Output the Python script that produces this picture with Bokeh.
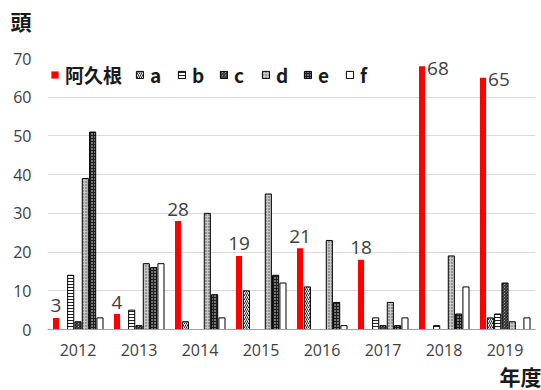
from bokeh.plotting import figure
from bokeh.models import (FactorRange, Range1d, SingleIntervalTicker, Title, Legend,
                          LegendItem, ColumnDataSource, CDSView, BooleanFilter)
from bokeh.transform import dodge
from bokeh.core.properties import value
from bokeh.embed import file_html
from bokeh.resources import INLINE

years = ["2012", "2013", "2014", "2015", "2016", "2017", "2018", "2019"]
akune = [3, 4, 28, 19, 21, 18, 68, 65]
a = [0, 0, 2, 10, 11, 0, 0, 3]
b = [14, 5, 0, 0, 0, 3, 1, 4]
c = [2, 1, 0, 0, 0, 1, 0, 12]
d = [39, 17, 30, 35, 23, 7, 19, 2]
e = [51, 16, 9, 14, 7, 1, 4, 0]
f = [3, 17, 3, 12, 1, 3, 11, 3]
series_keys = ["akune", "a", "b", "c", "d", "e", "f"]
series_labels = ["阿久根", "a", "b", "c", "d", "e", "f"]

src = ColumnDataSource(dict(year=years, akune=akune, a=a, b=b, c=c, d=d, e=e, f=f,
                            akune_txt=[str(v) for v in akune]))

p = figure(width=541, height=390, x_range=FactorRange(*years), y_range=Range1d(0, 70),
           output_backend="svg", toolbar_location=None,
           min_border_left=47, min_border_right=6, min_border_top=58, min_border_bottom=58)
p.outline_line_color = None
p.background_fill_color = "white"

styles = {
    "akune": dict(fill_color="#ff0000", line_color=None),
    "a": dict(fill_color="white", line_color="black", hatch_pattern="/", hatch_scale=4,
              hatch_color="#222222", hatch_weight=1),
    "b": dict(fill_color="white", line_color="black", hatch_pattern="-", hatch_scale=3,
              hatch_color="#222222", hatch_weight=1),
    "c": dict(fill_color="white", line_color="black", hatch_pattern="\\", hatch_scale=3,
              hatch_color="#222222", hatch_weight=1.2),
    "d": dict(fill_color="#c8c8c8", line_color="black", hatch_pattern=".", hatch_scale=3,
              hatch_color="#444444", hatch_weight=1),
    "e": dict(fill_color="#1e1e1e", line_color="black", hatch_pattern=".", hatch_scale=3,
              hatch_color="white", hatch_weight=1.2),
    "f": dict(fill_color="white", line_color="black"),
}

slot = 0.12
items = []
for i, (key, lab) in enumerate(zip(series_keys, series_labels)):
    off = (i - 3) * slot
    r = p.vbar(x=dodge("year", off, range=p.x_range), top=key, width=0.1, source=src,
               line_width=1, **styles[key])
    items.append(LegendItem(label=lab, renderers=[r]))

low_view = CDSView(filter=BooleanFilter([v < 60 for v in akune]))
high_view = CDSView(filter=BooleanFilter([v >= 60 for v in akune]))
p.text(x=dodge("year", -3 * slot, range=p.x_range), y="akune", text="akune_txt", source=src,
       view=low_view, text_align="center", text_baseline="alphabetic", y_offset=-12,
       text_font=value("Open Sans"), text_font_size="19px", text_color="#404040")
p.text(x=dodge("year", -3 * slot, range=p.x_range), y="akune", text="akune_txt", source=src,
       view=high_view, text_align="left", text_baseline="middle", x_offset=5, y_offset=2,
       text_font=value("Open Sans"), text_font_size="19px", text_color="#404040")

legend = Legend(items=items, orientation="horizontal", location="top_left")
legend.margin = 3
legend.padding = 8
legend.glyph_width = 9
legend.glyph_height = 9
legend.label_standoff = 6
legend.label_width = 14
legend.label_height = 14
legend.spacing = 13
legend.label_text_font = "Noto Sans CJK JP"
legend.label_text_font_style = "bold"
legend.label_text_font_size = "19px"
legend.label_text_color = "#1a1a1a"
legend.border_line_color = None
legend.background_fill_alpha = 0
p.add_layout(legend)

p.yaxis.ticker = SingleIntervalTicker(interval=10)
p.yaxis.axis_line_color = None
p.yaxis.major_tick_line_color = None
p.yaxis.minor_tick_line_color = None
p.yaxis.major_label_standoff = 10
p.yaxis.major_label_text_font = "Open Sans"
p.yaxis.major_label_text_font_size = "16px"
p.yaxis.major_label_text_color = "#404040"

p.xaxis.axis_line_color = "#a0a0a0"
p.xaxis.major_tick_line_color = None
p.xaxis.minor_tick_line_color = None
p.xaxis.major_label_standoff = 8
p.xaxis.major_label_text_font = "Open Sans"
p.xaxis.major_label_text_font_size = "16px"
p.xaxis.major_label_text_color = "#404040"

p.xgrid.grid_line_color = None
p.ygrid.grid_line_color = "#d9d9d9"

# empty spacer between the frame and the unit label
p.add_layout(Title(text=" ", text_font_size="19px", standoff=0), "above")
p.add_layout(Title(text="頭", align="left", offset=-37, text_font="Noto Sans CJK JP",
                   text_font_style="bold", text_font_size="21px", text_color="#1a1a1a",
                   text_line_height=1.0, standoff=0), "above")
p.add_layout(Title(text="年度", align="right", offset=-6, text_font="Noto Sans CJK JP",
                   text_font_style="bold", text_font_size="21px", text_color="#1a1a1a",
                   standoff=0), "below")

open("out.html", "w").write(file_html(p, INLINE))
